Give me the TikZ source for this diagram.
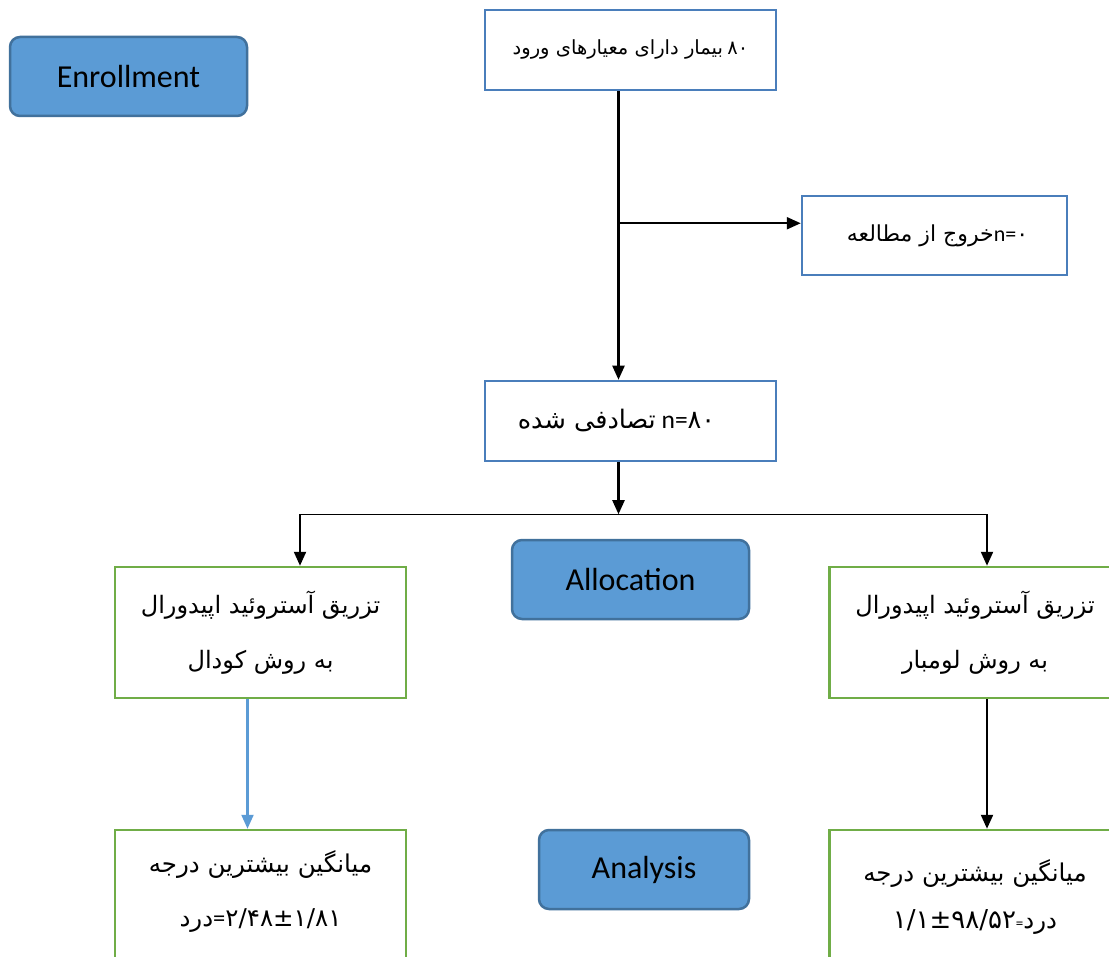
\documentclass[tikz,border=0pt]{standalone}
\usepackage{fontspec}
\setmainfont{Carlito}
\newfontfamily\af[Script=Arabic]{DejaVu Sans}
\TeXXeTstate=1
\usetikzlibrary{arrows.meta}
\definecolor{phasefill}{RGB}{91,155,213}
\definecolor{phaseborder}{RGB}{65,113,156}
\definecolor{boxblue}{RGB}{74,126,187}
\definecolor{boxgreen}{RGB}{112,173,71}
\definecolor{arrowblue}{RGB}{91,155,213}
\newcommand{\persian}[1]{{\af\beginR #1\endR}}
\begin{document}
\begin{tikzpicture}[x=1pt,y=-1pt,
  phase/.style={draw=phaseborder, fill=phasefill, line width=2.5pt, rounded corners=10pt,
    minimum width=237pt, minimum height=79pt, inner sep=0pt, font=\fontsize{32}{36}\selectfont},
  bluebox/.style={draw=boxblue, line width=2.5pt, minimum width=291pt, minimum height=80pt, inner sep=0pt},
  greenbox/.style={draw=boxgreen, line width=2.5pt, minimum width=291pt, minimum height=131pt,
    inner sep=0pt, align=center, font=\fontsize{24}{55}\selectfont},
  conn/.style={line width=2.2pt, -{Triangle[width=12pt,length=14pt]}},
  bus/.style={line width=1.4pt}
]
\clip (0,0) rectangle (1109,957);
\fill[white] (0,0) rectangle (1109,957);
% phase labels
\node[phase] (enr) at (128.5,76.5) {Enrollment};
\node[phase] (alloc) at (630.5,579.5) {Allocation};
\node[phase, minimum width=210pt] (anal) at (644,869.5) {Analysis};
% blue boxes
\node[bluebox, font=\fontsize{19.5}{24}\selectfont] (top) at (630.5,50) {\raisebox{6pt}{\persian{بیمار دارای معیارهای ورود} {\af ۸۰}}};
\node[bluebox, minimum width=265pt, minimum height=79pt, font=\fontsize{22}{26}\selectfont] (excl) at (934.5,235.5) {\raisebox{4pt}{\hspace*{6pt}\persian{خروج از مطالعه}n={\af ۰}}};
\node[bluebox, font=\fontsize{25.5}{30}\selectfont] (rand) at (630.5,421) {\raisebox{4pt}{\persian{تصادفی شده} n={\af ۸۰}}\hspace*{28pt}};
% green boxes
\node[greenbox] (lg) at (260.5,632.5) {\persian{تزریق آستروئید اپیدورال}\\\persian{به روش کودال}};
\node[greenbox] (rg) at (975,632.5) {\persian{تزریق آستروئید اپیدورال}\\\persian{به روش لومبار}};
\node[greenbox, minimum height=134pt, font=\fontsize{24.5}{54}\selectfont] (lb) at (260.5,897) {\persian{میانگین بیشترین درجه}\\\persian{درد}={\af ۲/۴۸±۱/۸۱}\strut};
\node[greenbox, minimum height=134pt, font=\fontsize{24.5}{47}\selectfont] (rb) at (975,897) {\persian{میانگین بیشترین درجه}\\{\af\fontsize{26}{47}\selectfont ۱/۱±۹۸/۵۲}{\fontsize{15}{15}\selectfont=}\persian{درد}};
% connectors
\draw[conn] ([xshift=-12pt]top.south) -- ([xshift=-12pt]rand.north);
\coordinate (split) at ([xshift=-12pt,yshift=-132pt]top.south);
\draw[conn] (split) -- (split -| excl.west);
\coordinate (busmid) at ([xshift=-12pt,yshift=-52pt]rand.south);
\draw[conn] ([xshift=-12pt]rand.south) -- (busmid);
\coordinate (busl) at ([xshift=39.5pt]lg.north |- busmid);
\coordinate (busr) at ([xshift=12pt]rg.north |- busmid);
\draw[bus] (busl) -- (busr);
\draw[conn] (busl) -- (busl |- lg.north);
\draw[conn] (busr) -- (busr |- rg.north);
\draw[conn, draw=arrowblue, fill=arrowblue] ([xshift=-13pt]lg.south) -- ([xshift=-13pt]lb.north);
\draw[conn] ([xshift=12pt]rg.south) -- ([xshift=12pt]rb.north);
\end{tikzpicture}
\end{document}
